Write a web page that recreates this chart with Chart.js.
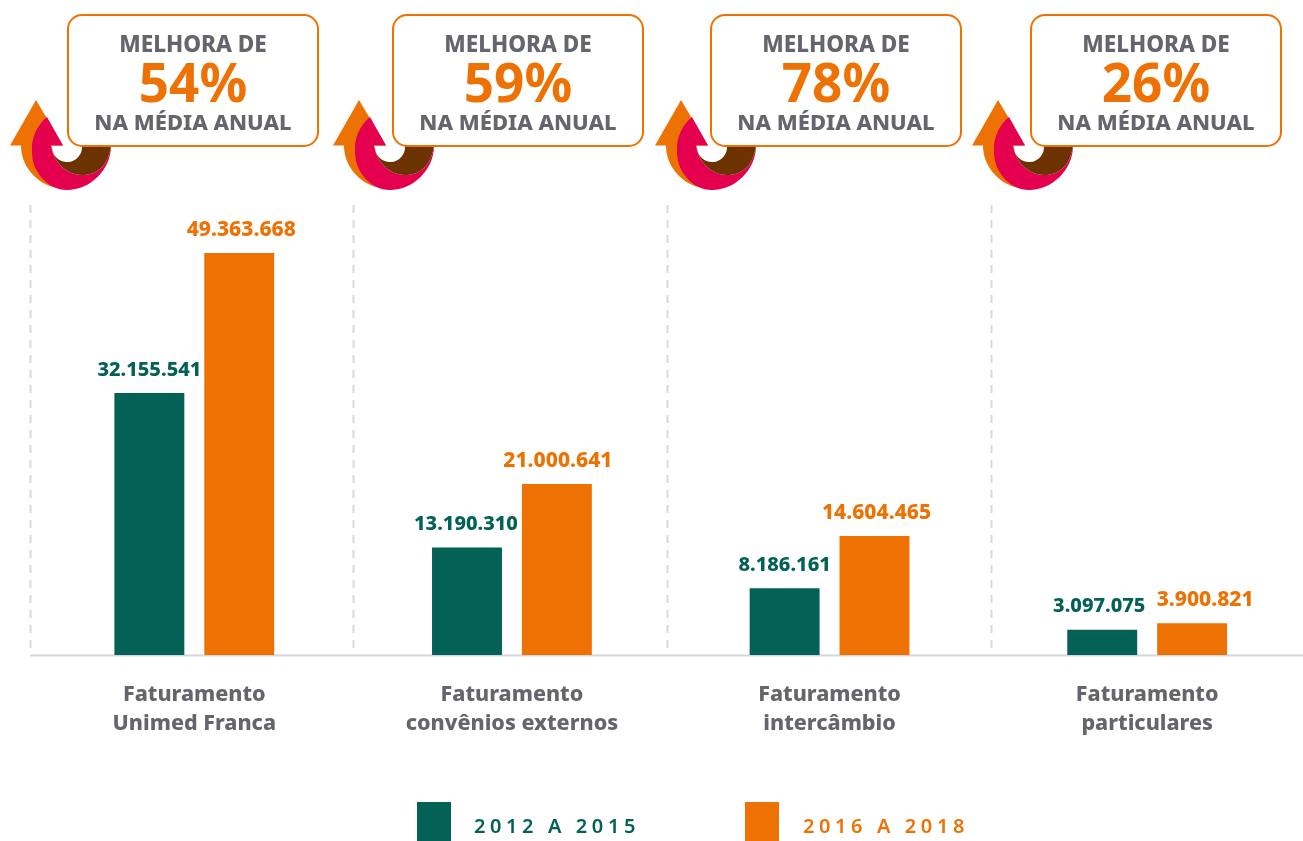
<!DOCTYPE html>
<html lang="pt-BR">
<head>
<meta charset="utf-8">
<title>Faturamento</title>
<script src="https://cdn.jsdelivr.net/npm/chart.js@4"></script>
<style>
    body { margin: 0; background: #fff; font-family: "Noto Sans", sans-serif; }
    #wrap { position: relative; width: 1303px; height: 841px; overflow: hidden; }
    canvas { position: absolute; left: 0; top: 0; }
    .arrow { position: absolute; top: 95px; width: 110px; height: 100px; }
    .box {
        position: absolute; top: 14px; width: 248px; height: 129px;
        background: #fff; border: 2px solid #ee7203; border-radius: 15px;
        text-align: center; color: #65656d; font-weight: 800; font-size: 22px;
    }
    .box div { position: absolute; left: 0; right: 0; white-space: nowrap; }
    .box .l1 { top: 14px; line-height: 28px; font-size: 22.5px; }
    .box .l2 { top: 36px; line-height: 60px; font-size: 53px; font-weight: 700; color: #ee7203; }
    .box .l3 { top: 91px; line-height: 28px; }
    .leg-box { position: absolute; top: 802px; width: 34px; height: 39px; }
    .leg-text { position: absolute; top: 812px; font: 600 20px "Noto Sans", sans-serif; letter-spacing: 4.6px; white-space: pre; }
</style>
</head>
<body>
<div id="wrap">
    <canvas id="myChart" width="1306" height="841"></canvas>
</div>
<script>
// Data
const categories = [
    ["Faturamento", "Unimed Franca"],
    ["Faturamento", "convênios externos"],
    ["Faturamento", "intercâmbio"],
    ["Faturamento", "particulares"],
];
const periodo1 = [32155541, 13190310, 8186161, 3097075];
const periodo2 = [49363668, 21000641, 14604465, 3900821];
const seriesNames = ["2012 A 2015", "2016 A 2018"];
const melhoria = ["54%", "59%", "78%", "26%"];

const TEAL = "#036156";
const ORANGE = "#ee7203";
const GRAY = "#65656d";

// Page layout, in pixels
const boxLeft = [67, 392, 710, 1030];
const arrowLeft = [10, 333, 655, 972];
const dividerX = [30.5, 353.5, 667.5, 991.5];
const legendBoxX = [417, 745];
const legendTextX = [474, 803];
const labelShift = [[0, 2], [-1, 1], [0, 2], [-3, 13]]; // rotulos nao ficam bem centrados
const labelSize = [20, 21];

function formatBR(n) {
    return String(n).replace(/\B(?=(\d{3})+(?!\d))/g, ".");
}

// Callouts and arrows
const wrap = document.getElementById("wrap");
melhoria.forEach((pct, i) => {
    wrap.insertAdjacentHTML("beforeend", `
        <svg class="arrow" style="left:${arrowLeft[i]}px" viewBox="0 95 110 100">
            <path fill="${ORANGE}" d="M0 145.5 L26 100 L53 145.5 L30 145.5 L43 187 C25 182 11 165 11 145.5 Z"/>
            <path fill="#e4004f" d="M37 117 L53 145.5 L41 145.5 C43 160 55 175 72 175 C88 175 98 165 101 146 C101 170 80 190 57 190 C38 190 22 172 22 152 C21 138 27 125 37 117 Z"/>
            <path fill="#6c3200" d="M41 145.5 C43 160 55 175 72 175 C88 175 98 165 101 146 L72 146 A15 15 0 0 1 42 148 Z"/>
        </svg>
        <div class="box" style="left:${boxLeft[i]}px">
            <div class="l1">MELHORA DE</div>
            <div class="l2">${pct}</div>
            <div class="l3">NA MÉDIA ANUAL</div>
        </div>`);
});

// Legend
seriesNames.forEach((name, i) => {
    const color = i === 0 ? TEAL : ORANGE;
    wrap.insertAdjacentHTML("beforeend", `
        <div class="leg-box" style="left:${legendBoxX[i]}px;background:${color}"></div>
        <div class="leg-text" style="left:${legendTextX[i]}px;color:${color}">${name}</div>`);
});

// Dashed dividers, base line and value labels
const extras = {
    id: "extras",
    beforeDatasetsDraw(chart) {
        const { ctx } = chart;
        const base = chart.scales.y.getPixelForValue(0);
        ctx.save();
        ctx.strokeStyle = "#d9d9d9";
        ctx.lineWidth = 2;
        ctx.setLineDash([8, 7]);
        dividerX.forEach((x) => {
            ctx.beginPath();
            ctx.moveTo(x, 205);
            ctx.lineTo(x, base);
            ctx.stroke();
        });
        ctx.setLineDash([]);
        ctx.strokeStyle = "#d2d5da";
        ctx.beginPath();
        ctx.moveTo(30, base + 0.5);
        ctx.lineTo(1303, base + 0.5);
        ctx.stroke();
        ctx.restore();
    },
    afterDatasetsDraw(chart) {
        const { ctx } = chart;
        ctx.save();
        ctx.textAlign = "center";
        ctx.textBaseline = "middle";
        chart.data.datasets.forEach((ds, d) => {
            ctx.font = `800 ${labelSize[d]}px 'Noto Sans', sans-serif`;
            ctx.fillStyle = ds.backgroundColor;
            chart.getDatasetMeta(d).data.forEach((bar, i) => {
                ctx.fillText(formatBR(ds.data[i]), bar.x + labelShift[i][d], bar.y - 23);
            });
        });
        ctx.restore();
    },
};

const ctx = document.getElementById("myChart").getContext("2d");
new Chart(ctx, {
    type: "bar",
    plugins: [extras],
    data: {
        labels: categories,
        datasets: [
            { label: seriesNames[0], data: periodo1, backgroundColor: TEAL },
            { label: seriesNames[1], data: periodo2, backgroundColor: ORANGE },
        ],
    },
    options: {
        responsive: false,
        animation: false,
        layout: { padding: { left: 35.5, right: 0, top: 207, bottom: 0 } },
        categoryPercentage: 0.566,
        barPercentage: 0.778,
        plugins: { legend: { display: false }, tooltip: { enabled: false } },
        scales: {
            x: {
                afterFit: (scale) => { scale.height = 186; },
                border: { display: false },
                grid: { display: false },
                ticks: {
                    padding: 17,
                    color: GRAY,
                    maxRotation: 0,
                    font: { family: "'Noto Sans', sans-serif", size: 21.5, weight: "800", lineHeight: 1.35 },
                },
            },
            y: { display: false, min: 0, max: 55000000 },
        },
    },
});
</script>
</body>
</html>
